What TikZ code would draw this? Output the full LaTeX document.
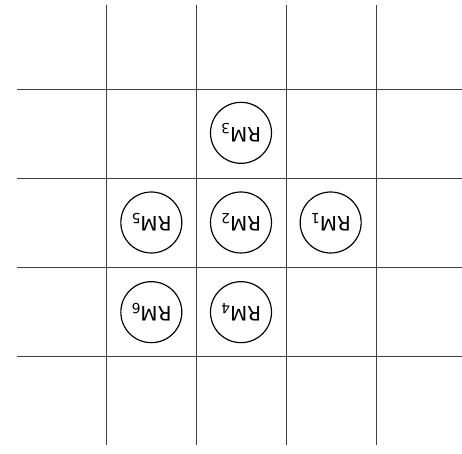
\documentclass[tikz,border=0pt]{standalone}
\usepackage{fontspec}
\setmainfont{DejaVu Sans}
\usetikzlibrary{positioning}
\tikzstyle{gridline} = [draw=black!75, line width=0.8pt]
\tikzstyle{rmnode} = [circle, draw=black, line width=1pt, minimum size=1.83cm, inner sep=0pt, rotate=180, font=\fontsize{17}{20}\selectfont]

\begin{document}
\begin{tikzpicture}[x=0.03cm, y=-0.03cm, node distance=2.69cm, on grid]
    \useasboundingbox (0,0) rectangle (462,454);

    % Grid
    \foreach \gx in {106.5,196.5,286.5,376} {
        \draw [gridline] (\gx,5) -- (\gx,445);
    }
    \foreach \gy in {89,178,267,356} {
        \draw [gridline] (17,\gy) -- (462,\gy);
    }

    % Nodes
    \node (rm2) [rmnode] at (241,222.5) {RM\textsubscript{2}};
    \node (rm1) [rmnode, right=of rm2] {RM\textsubscript{1}};
    \node (rm3) [rmnode, above=of rm2] {RM\textsubscript{3}};
    \node (rm5) [rmnode, left=of rm2] {RM\textsubscript{5}};
    \node (rm4) [rmnode, below=of rm2] {RM\textsubscript{4}};
    \node (rm6) [rmnode, below=of rm5] {RM\textsubscript{6}};

\end{tikzpicture}
\end{document}
